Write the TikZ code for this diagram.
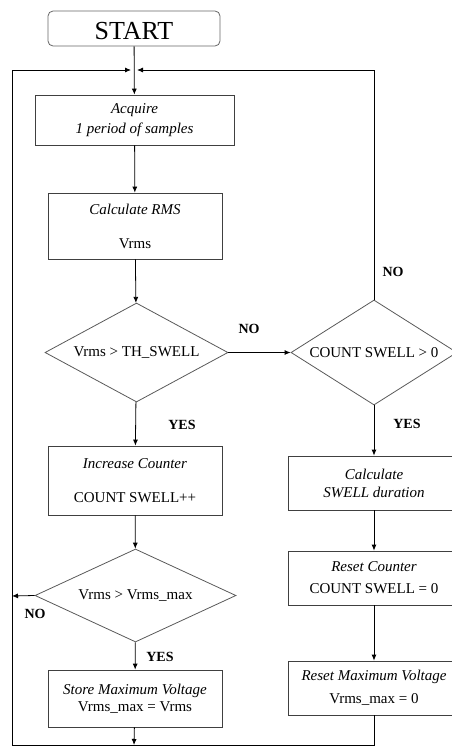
\documentclass[tikz,border=0pt]{standalone}
\usepackage{fontspec}
\setmainfont{Liberation Serif}
\usetikzlibrary{shapes.geometric,arrows.meta}
\begin{document}
\begin{tikzpicture}[x=1pt,y=-1pt,
  box/.style={draw=black!75,line width=0.8pt,rectangle,inner sep=0pt,align=center,
    font=\fontsize{15}{17}\selectfont},
  decision/.style={draw=black!65,line width=0.8pt,diamond,inner sep=0pt,align=center,
    font=\fontsize{15}{17}\selectfont},
  flow/.style={line width=0.8pt,-{Latex[length=6pt,width=5pt]}},
  answer/.style={font=\fontsize{14}{16}\selectfont\bfseries}]
\useasboundingbox (0,0) rectangle (452,747);
\clip (0,0) rectangle (452,747);

% terminal
\node[draw=black!60,line width=0.8pt,rounded corners=5pt,minimum width=172pt,minimum height=35pt,
  text height=22pt,text depth=0pt,
  font=\fontsize{26}{28}\selectfont] (start) at (134,28.5) {START};

% left column
\node[box,minimum width=199pt,minimum height=50pt] (acq) at (134.5,120)
  {\textit{Acquire}\\[3pt]\textit{1 period of samples}};
\node[box,minimum width=174pt,minimum height=66pt] (rms) at (135,226)
  {\textit{Calculate RMS}\\[17pt]Vrms};
\node[decision,aspect=1.85,minimum width=183pt,minimum height=99pt] (d1) at (136.5,352.5)
  {Vrms > TH\_SWELL};
\node[box,minimum width=174pt,minimum height=69pt] (inc) at (135,480.5)
  {\textit{Increase Counter}\\[17pt]COUNT SWELL++};
\node[decision,aspect=2.16,minimum width=201pt,minimum height=93pt] (d3) at (135.5,595.5)
  {Vrms > Vrms\_max};
\node[box,minimum width=174pt,minimum height=57pt] (store) at (135,698.5)
  {\textit{Store Maximum Voltage}\\Vrms\_max = Vrms};

% right column
\node[decision,aspect=1.58,minimum width=166pt,minimum height=105pt] (d2) at (374,352.5)
  {COUNT SWELL > 0};
\node[box,minimum width=172pt,minimum height=54pt] (calc) at (374,483)
  {\textit{Calculate}\\[1pt]\textit{SWELL duration}};
\node[box,minimum width=172pt,minimum height=54pt] (reset) at (374,578)
  {\textit{Reset Counter}\\[5pt]COUNT SWELL = 0};
\node[box,minimum width=172pt,minimum height=54pt] (resetmax) at (374,688)
  {\textit{Reset Maximum Voltage}\\[6pt]Vrms\_max = 0};

% branch labels
\node[answer] (no1) at (249,329) {NO};
\node[answer] (no2) at (393,272) {NO};
\node[answer] (yes1) at (182,425) {YES};
\node[answer] (yes2) at (407,424) {YES};
\node[answer] (no3) at (35,614) {NO};
\node[answer] (yes3) at (160,657) {YES};

% loop corners
\coordinate (jl) at (131,70);
\coordinate (jr) at (137,70);
\coordinate (tl) at (12,70);
\coordinate (bl) at (12,745);
\coordinate (tr) at (374,70);
\coordinate (bj) at (134,745);
\coordinate (nl) at (12,596);

% main flow
\draw[flow] (start) -- (acq);
\draw[flow] (acq) -- (rms);
\draw[flow] (rms) -- (d1);
\draw[flow] (d1) -- (inc);
\draw[flow] (inc) -- (d3);
\draw[flow] (d3) -- (store);
\draw[flow] (d1.east) -- (d2.west);
\draw[flow] (d2.south) -- (calc);
\draw[flow] (calc) -- (reset);
\draw[flow] (reset) -- (resetmax);

% return paths
\draw[flow] (d3.west) -- (nl);
\draw[flow] (store) -- (bj);
\draw[flow] (resetmax.south) |- (bl) -- (tl) -- (jl);
\draw[flow] (d2.north) -- (tr) -- (jr);
\end{tikzpicture}
\end{document}
